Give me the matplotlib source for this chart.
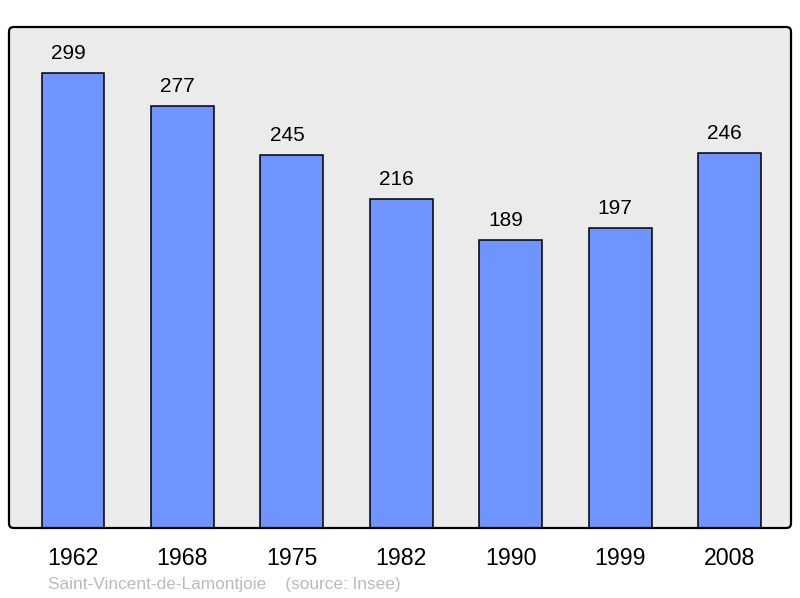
import matplotlib.pyplot as plt
from matplotlib.patches import FancyBboxPatch

plt.rcParams['font.family'] = ['Liberation Sans', 'DejaVu Sans']

# Population by census year
years = ["1962", "1968", "1975", "1982", "1990", "1999", "2008"]
population = [299, 277, 245, 216, 189, 197, 246]

fig = plt.figure(figsize=(8, 5.98), dpi=100)
ax = fig.add_axes([9 / 800, 70 / 598, 782 / 800, 501 / 598])
ax.set_facecolor("#ebebeb")

x = range(len(years))
ax.bar(x, population, width=0.575, color="#7094ff",
       edgecolor="black", linewidth=1.1, zorder=2)

# value labels sit a little left of the bar centre, as in the original
for xi, v in zip(x, population):
    ax.annotate(str(v), (xi, v), xytext=(-3.6, 10), textcoords="offset points",
                ha="center", va="baseline", fontsize=15)

ax.set_xlim(-0.585, 6.56)
ax.set_ylim(0, 299 * 1.1)
ax.set_xticks(list(x))
ax.set_xticklabels(years, fontsize=16.7)
ax.set_yticks([])
ax.tick_params(axis="x", length=0, pad=13.5)

for s in ax.spines.values():
    s.set_visible(False)

frame = FancyBboxPatch((0, 0), 1, 1, boxstyle="round,pad=0,rounding_size=0.006",
                       mutation_aspect=782 / 501, transform=ax.transAxes,
                       facecolor="none", edgecolor="black", linewidth=1.6,
                       clip_on=False, zorder=5)
ax.add_patch(frame)

fig.text(48 / 800, 1 - 584 / 598,
         "Saint-Vincent-de-Lamontjoie    (source: Insee)",
         color="#bbbbbb", fontsize=12.4, va="center", ha="left")

fig.savefig("out.png", dpi=100)
